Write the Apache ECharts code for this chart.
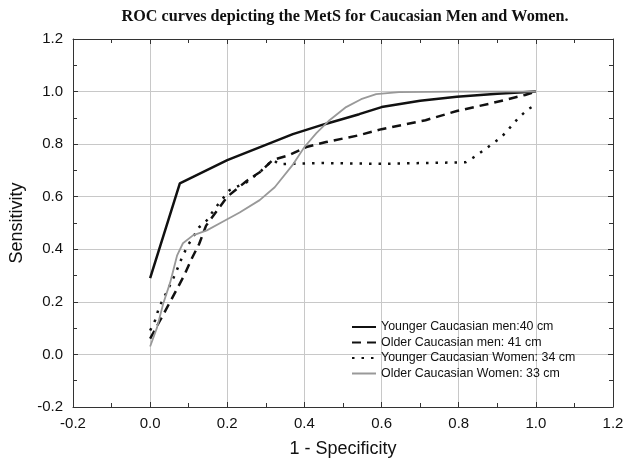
<!DOCTYPE html>
<html>
<head>
	<meta charset="UTF-8">
	<script type="text/javascript" src="https://cdn.jsdelivr.net/npm/echarts@6/dist/echarts.min.js"></script>
	<title></title>
	<style type="text/css">
		body{ margin:0; background:#fff; }
		#roc_box{ width:627px; height:461px; }
	</style>
</head>
<body>
<div id="roc_box"></div>
<script type="text/javascript">
// 曲线数据 [1-特异度, 灵敏度]
var youngMen = [[0,0.29],[0.077,0.651],[0.2,0.739],[0.37,0.838],[0.45,0.875],[0.542,0.914],[0.6,0.941],[0.7,0.965],[0.795,0.98],[0.9,0.992],[1,1]];
var olderMen = [[0,0.06],[0.026,0.13],[0.047,0.187],[0.07,0.25],[0.088,0.3],[0.108,0.365],[0.127,0.42],[0.145,0.49],[0.2,0.6],[0.25,0.66],[0.284,0.693],[0.318,0.74],[0.36,0.758],[0.405,0.789],[0.456,0.808],[0.542,0.834],[0.6,0.857],[0.714,0.891],[0.795,0.926],[0.886,0.956],[0.972,0.987],[1,1]];
var youngWomen = [[0,0.091],[0.013,0.13],[0.02,0.164],[0.03,0.2],[0.043,0.237],[0.065,0.305],[0.075,0.342],[0.085,0.377],[0.098,0.415],[0.127,0.484],[0.147,0.51],[0.168,0.556],[0.206,0.625],[0.25,0.655],[0.284,0.693],[0.318,0.74],[0.335,0.724],[0.45,0.728],[0.6,0.725],[0.7,0.728],[0.818,0.731],[0.839,0.75],[0.865,0.777],[0.886,0.8],[0.911,0.827],[0.934,0.865],[0.955,0.9],[0.98,0.933],[1,0.95]];
var olderWomen = [[0,0.03],[0.018,0.103],[0.034,0.194],[0.052,0.274],[0.07,0.377],[0.085,0.423],[0.111,0.453],[0.147,0.472],[0.188,0.505],[0.232,0.54],[0.284,0.587],[0.323,0.636],[0.369,0.72],[0.4,0.789],[0.431,0.842],[0.465,0.891],[0.508,0.941],[0.547,0.971],[0.586,0.99],[0.645,0.998],[0.8,1],[1,1]];
var seriesNames = ['Younger Caucasian men:40 cm','Older Caucasian men: 41 cm','Younger Caucasian Women: 34 cm','Older Caucasian Women: 33 cm'];

var roc_box = echarts.init(document.getElementById('roc_box'));

var fmt = function(v){ return v.toFixed(1); };
var gridLine = { show:true, lineStyle:{ color:'#c8c8c8', width:1 } };
var axLine = { show:true, onZero:false, lineStyle:{ color:'#333', width:1 } };
var tick = { show:true, inside:true, length:5, lineStyle:{ color:'#333' } };
var minor = { show:true, splitNumber:2, length:4, lineStyle:{ color:'#333' } };
var tickFont = { fontFamily:'Liberation Sans', fontSize:15, color:'#111' };
var nameFont = { fontFamily:'Liberation Sans', fontSize:18, color:'#111' };

option = {
	animation:false,
	title:{
		text:'ROC curves depicting the MetS for Caucasian Men and Women.',
		left:340, top:4, textAlign:'center',
		textStyle:{ fontFamily:'Liberation Serif', fontWeight:'bold', fontSize:16.2, color:'#111' }
	},
	legend:{
		data:seriesNames,
		orient:'vertical',
		left:346, top:315,
		itemWidth:24, itemHeight:10, itemGap:1.5,
		itemStyle:{ opacity:0 },
		textStyle:{ fontFamily:'Liberation Sans', fontSize:12.4, lineHeight:14, color:'#111' }
	},
	grid:{ left:73, right:14, top:39, bottom:54, outerBoundsMode:'none' },
	xAxis:[
		{
			type:'value', min:-0.2, max:1.2, interval:0.2, position:'bottom',
			name:'1 - Specificity', nameLocation:'middle', nameGap:33,
			nameTextStyle:nameFont,
			axisLine:axLine, axisTick:tick, minorTick:minor, splitLine:gridLine,
			axisLabel:Object.assign({ formatter:fmt, margin:9 }, tickFont)
		},
		{
			type:'value', min:-0.2, max:1.2, interval:0.2, position:'top',
			axisLine:axLine, axisTick:tick, minorTick:minor, splitLine:{show:false},
			axisLabel:{ show:false }
		}
	],
	yAxis:[
		{
			type:'value', min:-0.2, max:1.2, interval:0.2, position:'left',
			name:'Sensitivity', nameLocation:'middle', nameGap:47, nameRotate:90,
			nameTextStyle:nameFont,
			axisLine:axLine, axisTick:tick, minorTick:minor, splitLine:gridLine,
			axisLabel:Object.assign({ formatter:fmt, margin:10 }, tickFont)
		},
		{
			type:'value', min:-0.2, max:1.2, interval:0.2, position:'right',
			axisLine:axLine, axisTick:tick, minorTick:minor, splitLine:{show:false},
			axisLabel:{ show:false }
		}
	],
	series:[
		{
			name:seriesNames[0], type:'line', data:youngMen, symbol:'none',
			lineStyle:{ color:'#111', width:2.5 }, itemStyle:{ color:'#111' }
		},
		{
			name:seriesNames[1], type:'line', data:olderMen, symbol:'none',
			lineStyle:{ color:'#111', width:2.5, type:[9,6] }, itemStyle:{ color:'#111' }
		},
		{
			name:seriesNames[2], type:'line', data:youngWomen, symbol:'none',
			lineStyle:{ color:'#111', width:2.5, type:[2.5,7] }, itemStyle:{ color:'#111' }
		},
		{
			name:seriesNames[3], type:'line', data:olderWomen, symbol:'none',
			lineStyle:{ color:'#999', width:1.8 }, itemStyle:{ color:'#999' }
		}
	]
};
roc_box.setOption(option);
</script>
</body>
</html>
